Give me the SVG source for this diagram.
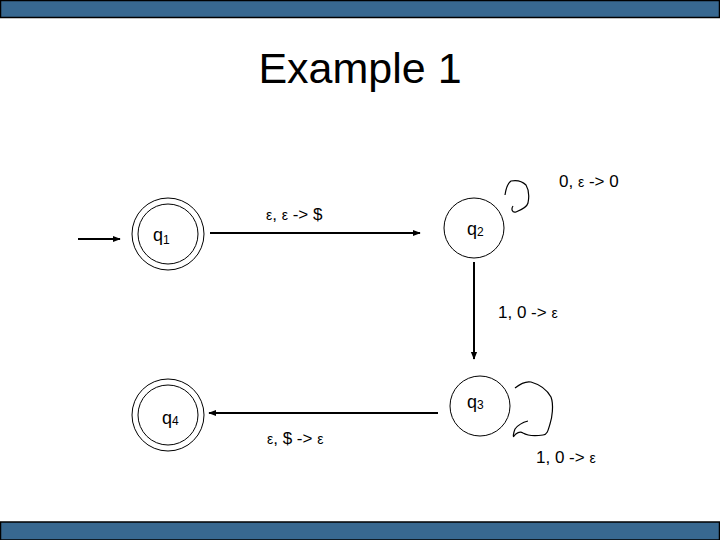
<svg xmlns="http://www.w3.org/2000/svg" width="720" height="540" viewBox="0 0 720 540">
<style>
.bar{fill:#386890;stroke:#000;stroke-width:1.5}
.st{fill:none;stroke:#000;stroke-width:1}
.ed{fill:none;stroke:#000;stroke-width:2}
.lp{fill:none;stroke:#000;stroke-width:1.2}
text{font-family:"Liberation Sans",Arial,sans-serif;fill:#000}
.lb{font-size:17px}
.eps{font-size:14px}
.q{font-size:18px}
.sub{font-size:12px}
.title{font-size:43px}
</style>
<defs>
<marker id="ah" viewBox="0 0 10 10" refX="9" refY="5" markerWidth="4" markerHeight="4" orient="auto">
<path d="M0,1 L10,5 L0,9 z" fill="#000"/>
</marker>
</defs>
<rect width="720" height="540" fill="#fff"/>
<rect class="bar" x="0.5" y="0.5" width="719" height="17"/>
<rect class="bar" x="0.5" y="522" width="719" height="18"/>
<text class="title" x="360" y="83" text-anchor="middle">Example 1</text>

<g id="q1">
<circle class="st" cx="168" cy="234" r="36"/>
<circle class="st" cx="168" cy="234" r="30"/>
<text class="q" x="153" y="241">q<tspan class="sub" dy="3">1</tspan></text>
</g>
<g id="q2">
<circle class="st" cx="474" cy="228" r="30"/>
<text class="q" x="467" y="235">q<tspan class="sub" dy="1">2</tspan></text>
</g>
<g id="q3">
<circle class="st" cx="480" cy="406" r="30"/>
<text class="q" x="467" y="408">q<tspan class="sub" dy="1">3</tspan></text>
</g>
<g id="q4">
<circle class="st" cx="168" cy="415" r="36"/>
<circle class="st" cx="168" cy="415" r="30"/>
<text class="q" x="162" y="424">q<tspan class="sub" dy="1">4</tspan></text>
</g>

<g id="connectors">
<line class="ed" x1="78" y1="239" x2="120" y2="239" marker-end="url(#ah)"/>
<line class="ed" x1="210" y1="233" x2="420" y2="233" marker-end="url(#ah)"/>
<line class="ed" x1="474" y1="262" x2="474" y2="359" marker-end="url(#ah)"/>
<line class="ed" x1="438" y1="413" x2="209" y2="413" marker-end="url(#ah)"/>
<path class="lp" d="M505,195 C506,188 508,183 511,181 C516,180 522,181 526,185 C529,190 529,198 528,203 C527,207 521,210 516,212 C512,213 511,209 513,206"/>
<path class="lp" d="M515,388 C520,384 526,381 531,382 C538,384 546,388 551,397 C554,405 552,418 550,424 C548,431 547,435 543,435 C536,436 528,436 523,433 C520,431 516,433 514,436 C513,438 513,434 515,429 C518,425 524,422 528,421"/>
</g>

<g id="labels">
<text class="lb" x="266" y="220"><tspan class="eps">ε</tspan>, <tspan class="eps">ε</tspan>  -&gt; $</text>
<text class="lb" x="559" y="187">0, <tspan class="eps">ε</tspan> -&gt; 0</text>
<text class="lb" x="498" y="318">1, 0 -&gt; <tspan class="eps">ε</tspan></text>
<text class="lb" x="267" y="444"><tspan class="eps">ε</tspan>, $ -&gt; <tspan class="eps">ε</tspan></text>
<text class="lb" x="536" y="463">1, 0 -&gt; <tspan class="eps">ε</tspan></text>
</g>
</svg>
